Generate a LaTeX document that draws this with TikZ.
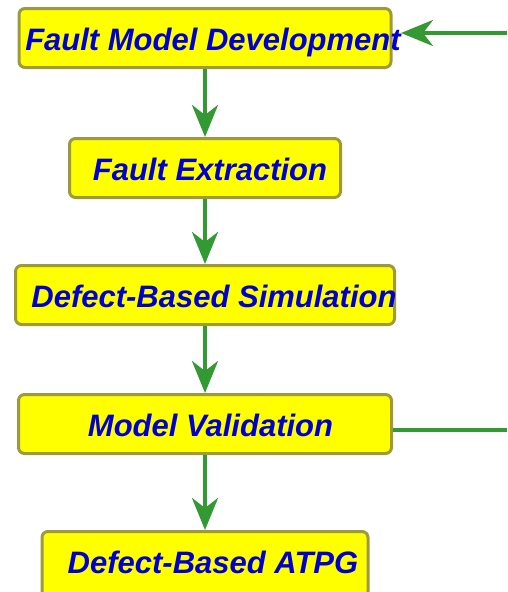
\documentclass[tikz,border=0pt]{standalone}
\usepackage{fontspec}
\newfontfamily\stepfont{Liberation Sans}
\usetikzlibrary{positioning,calc,arrows.meta}
\definecolor{stepyellow}{RGB}{255,255,0}
\definecolor{stepolive}{RGB}{156,154,60}
\definecolor{stepblue}{RGB}{0,0,210}
\definecolor{flowgreen}{RGB}{51,153,51}
\tikzset{
  stepbox/.style={fill=stepyellow, draw=stepolive, line width=3pt, rounded corners=6pt,
    minimum height=59pt, inner sep=0pt},
  steptext/.style={text=stepblue, inner sep=0pt, anchor=base,
    font=\stepfont\bfseries\itshape\fontsize{31}{36}\selectfont},
  flow/.style={draw=flowgreen, line width=4pt, -{Stealth[length=32pt,width=26pt,inset=10pt]}},
  flowline/.style={draw=flowgreen, line width=3.5pt}
}

\begin{document}
\begin{tikzpicture}[x=1pt, y=-1pt]
  \useasboundingbox (0,0) rectangle (507,592);

  % the five steps, top to bottom
  \node [stepbox, minimum width=372pt] (dev) at (205,38) {};
  \node [stepbox, minimum width=271pt, below=68pt of dev] (ext) {};
  \node [stepbox, minimum width=379pt, below=65pt of ext] (sim) {};
  \node [stepbox, minimum width=373pt, below=67pt of sim] (val) {};
  \node [stepbox, minimum width=326pt, minimum height=66pt, below=75pt of val] (atpg) {};

  \node [steptext] (devText)  at ($(dev)+(8,12)$)   {Fault Model Development};
  \node [steptext] (extText)  at ($(ext)+(5,12)$)   {Fault Extraction};
  \node [steptext] (simText)  at ($(sim)+(9,12)$)   {Defect-Based Simulation};
  \node [steptext] (valText)  at ($(val)+(5.5,12)$) {Model Validation};
  \node [steptext] (atpgText) at ($(atpg)+(8,9)$)   {Defect-Based ATPG};

  \draw [flow] (dev) -- (ext);
  \draw [flow] (ext) -- (sim);
  \draw [flow] (sim) -- (val);
  \draw [flow] (val) -- (atpg);

  % loop back from validation to the model
  \coordinate (backOut) at (507,430);
  \coordinate (backIn)  at (507,33);
  \coordinate (backTip) at (401,33);
  \draw [flowline] (val.east |- backOut) -- (backOut);
  \draw [flow] (backIn) -- (backTip);
\end{tikzpicture}
\end{document}
